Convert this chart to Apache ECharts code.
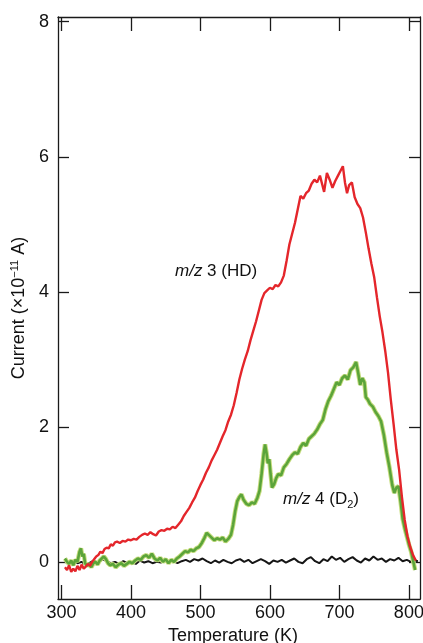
<!DOCTYPE html>
<html>
<head>
<meta charset="utf-8">
<script src="https://cdn.jsdelivr.net/npm/echarts@6/dist/echarts.min.js"></script>
<style>
  html, body { margin: 0; padding: 0; background: #fff; }
  #main { width: 423px; height: 643px; }
</style>
</head>
<body>
<div id="main"></div>
<script>
// tick labels
var tempTicks = [300, 400, 500, 600, 700, 800];
var currentTicks = [0, 2, 4, 6, 8];

// m/z 3 (HD), red
var hdTemp = [305, 308, 311, 314, 317, 320, 323, 326, 329, 332, 335, 338, 341, 344, 347, 350, 353, 356, 359, 362,
  365, 368, 371, 374, 377, 380, 384, 388, 392, 396, 400, 404, 408, 412, 416, 420, 424, 428, 432, 436,
  440, 444, 448, 452, 456, 460, 464, 468, 472, 476, 480, 484, 488, 492, 496, 500, 504, 508, 512, 516,
  520, 524, 528, 532, 536, 540, 544, 548, 552, 556, 560, 564, 568, 572, 576, 580, 584, 588, 592, 596,
  600, 604, 608, 612, 616, 620, 624, 628, 632, 636, 640, 644, 648, 652, 656, 660, 664, 668, 672, 676,
  678, 682, 686, 690, 694, 698, 702, 705, 708, 711, 714, 718, 722, 726, 730, 734, 738, 742, 746, 750,
  754, 758, 762, 766, 770, 774, 778, 782, 786, 790, 794, 798, 802, 806, 810];
var hdCurrent = [-0.08, -0.12, -0.05, -0.15, -0.10, -0.14, -0.06, -0.12, -0.04, -0.10, -0.07, -0.03, -0.06, 0.00, 0.04, 0.08, 0.10, 0.15, 0.13, 0.19,
  0.21, 0.20, 0.26, 0.24, 0.29, 0.30, 0.28, 0.31, 0.30, 0.33, 0.32, 0.34, 0.33, 0.37, 0.40, 0.42, 0.40, 0.44, 0.41, 0.39,
  0.45, 0.47, 0.46, 0.49, 0.48, 0.52, 0.50, 0.55, 0.60, 0.68, 0.74, 0.80, 0.88, 0.95, 1.05, 1.14, 1.22, 1.32, 1.40, 1.50,
  1.58, 1.66, 1.76, 1.86, 1.95, 2.08, 2.18, 2.32, 2.50, 2.70, 2.86, 3.00, 3.12, 3.28, 3.42, 3.56, 3.72, 3.88, 3.98, 4.02,
  4.06, 4.04, 4.10, 4.08, 4.14, 4.24, 4.46, 4.70, 4.86, 5.02, 5.22, 5.42, 5.38, 5.46, 5.50, 5.60, 5.66, 5.62, 5.72, 5.56,
  5.48, 5.76, 5.66, 5.54, 5.64, 5.72, 5.80, 5.86, 5.62, 5.46, 5.58, 5.62, 5.40, 5.30, 5.24, 5.10, 4.88, 4.64, 4.42, 4.22,
  3.92, 3.64, 3.40, 3.12, 2.80, 2.40, 2.04, 1.66, 1.36, 0.96, 0.62, 0.38, 0.22, 0.10, 0.02];

// m/z 4 (D2), green
var d2Temp = [305, 308, 311, 314, 317, 320, 323, 326, 328, 330, 332, 334, 337, 340, 343, 346, 349, 352, 355, 358,
  361, 364, 367, 370, 374, 378, 382, 386, 390, 394, 398, 402, 406, 410, 414, 418, 422, 426, 430, 434,
  438, 442, 446, 450, 454, 458, 462, 466, 470, 474, 478, 482, 486, 490, 494, 498, 502, 506, 509, 512,
  516, 520, 524, 528, 532, 536, 540, 544, 547, 550, 553, 556, 559, 562, 566, 570, 574, 578, 582, 585,
  588, 591, 593, 595, 597, 599, 601, 603, 606, 609, 612, 616, 620, 624, 628, 632, 636, 640, 644, 648,
  652, 656, 660, 664, 668, 672, 676, 680, 684, 688, 692, 696, 700, 704, 708, 712, 716, 720, 724, 727,
  730, 733, 736, 738, 741, 744, 748, 752, 756, 760, 764, 768, 772, 776, 779, 782, 785, 788, 791, 794,
  797, 800, 803, 806, 809];
var d2Current = [0.05, 0.00, -0.03, 0.02, -0.05, 0.03, 0.00, 0.15, 0.20, 0.08, 0.12, -0.02, -0.06, -0.03, -0.08, -0.02, 0.00, -0.04, 0.02, 0.05,
  0.08, 0.04, -0.02, -0.05, -0.03, -0.08, -0.04, -0.02, -0.06, -0.03, 0.00, -0.02, 0.02, 0.05, 0.03, 0.08, 0.10, 0.06, 0.12, 0.05,
  0.02, 0.06, 0.00, 0.04, -0.02, 0.03, 0.00, 0.05, 0.08, 0.12, 0.16, 0.14, 0.18, 0.16, 0.20, 0.22, 0.28, 0.36, 0.43, 0.40,
  0.36, 0.32, 0.35, 0.33, 0.36, 0.30, 0.34, 0.40, 0.55, 0.75, 0.90, 0.96, 1.00, 0.92, 0.86, 0.84, 0.88, 0.86, 0.95, 1.05,
  1.30, 1.60, 1.74, 1.62, 1.46, 1.52, 1.30, 1.10, 1.15, 1.24, 1.30, 1.28, 1.40, 1.45, 1.52, 1.58, 1.62, 1.60, 1.70, 1.76,
  1.72, 1.82, 1.86, 1.90, 1.96, 2.04, 2.10, 2.26, 2.38, 2.46, 2.56, 2.66, 2.62, 2.72, 2.76, 2.70, 2.84, 2.88, 2.96, 2.80,
  2.62, 2.72, 2.66, 2.44, 2.40, 2.34, 2.30, 2.22, 2.16, 2.08, 1.88, 1.62, 1.40, 1.14, 1.02, 1.10, 1.12, 0.90, 0.64, 0.50,
  0.38, 0.26, 0.16, 0.02, -0.12];

// baseline, black
var blankTemp = [305, 311, 317, 323, 329, 335, 341, 347, 353, 359, 365, 371, 377, 383, 389, 395, 401, 407, 413, 419,
  425, 431, 437, 443, 449, 455, 461, 467, 473, 479, 485, 491, 497, 503, 509, 515, 521, 527, 533, 539,
  545, 551, 557, 563, 569, 575, 581, 587, 593, 599, 605, 611, 617, 623, 629, 635, 641, 647, 653, 659,
  665, 671, 677, 683, 689, 695, 701, 707, 713, 719, 725, 731, 737, 743, 749, 755, 761, 767, 773, 779,
  785, 791, 797, 803, 809, 813];
var blankCurrent = [0.02, -0.03, 0.01, -0.02, 0.00, -0.04, -0.01, 0.02, -0.02, 0.04, 0.01, -0.02, 0.00, -0.03, 0.01, -0.02, 0.00, -0.03, 0.02, -0.01,
  0.01, -0.02, 0.00, -0.01, 0.02, -0.01, 0.01, -0.02, 0.01, 0.03, 0.00, 0.04, 0.02, 0.05, 0.01, -0.02, 0.02, -0.01, 0.03, 0.00,
  -0.02, 0.02, 0.04, 0.00, 0.03, -0.02, 0.01, 0.04, 0.01, -0.03, 0.02, 0.00, 0.03, -0.01, 0.02, 0.05, 0.00, -0.02, 0.04, 0.07,
  0.01, -0.02, 0.04, 0.01, 0.08, 0.03, 0.06, 0.00, 0.04, 0.07, 0.02, -0.01, 0.05, 0.02, 0.08, 0.03, 0.05, 0.00, 0.04, 0.02,
  0.06, 0.01, 0.03, 0.00, 0.02, 0.01];

function zip(xs, ys) {
  return xs.map(function (x, i) { return [x, ys[i]]; });
}

var font = 'Liberation Sans, Arial, Helvetica, sans-serif';
var axisColor = '#1a1a1a';

var chart = echarts.init(document.getElementById('main'));
chart.setOption({
  animation: false,
  backgroundColor: '#fff',
  textStyle: { fontFamily: font },
  grid: { left: 58, right: 3, top: 17, bottom: 44, outerBoundsMode: 'none' },
  xAxis: [{
    type: 'value', min: 295, max: 816, position: 'bottom',
    name: 'Temperature (K)', nameLocation: 'middle', nameGap: 27,
    nameTextStyle: { fontSize: 18, color: '#111', fontFamily: font, padding: [0, 12, 0, 0] },
    axisLine: { onZero: false, lineStyle: { color: axisColor, width: 1.3 } },
    axisTick: { inside: true, length: 14, customValues: tempTicks, lineStyle: { color: axisColor, width: 1.3 } },
    axisLabel: { customValues: tempTicks, margin: 5, fontSize: 18, color: '#111', fontFamily: font },
    splitLine: { show: false }
  }, {
    type: 'value', min: 295, max: 816, position: 'top',
    axisLine: { onZero: false, lineStyle: { color: axisColor, width: 1.3 } },
    axisTick: { inside: true, length: 14, customValues: tempTicks, lineStyle: { color: axisColor, width: 1.3 } },
    axisLabel: { show: false },
    splitLine: { show: false }
  }],
  yAxis: [{
    type: 'value', min: -0.55, max: 8.07, position: 'left',
    name: '{a|Current (×10}{s|−11}{a| A)}', nameLocation: 'middle', nameGap: 28, nameRotate: 90,
    nameTextStyle: {
      color: '#111',
      rich: {
        a: { fontSize: 18, fontFamily: font, color: '#111', lineHeight: 20 },
        s: { fontSize: 11, fontFamily: font, color: '#111', verticalAlign: 'top', lineHeight: 20 }
      }
    },
    axisLine: { onZero: false, lineStyle: { color: axisColor, width: 1.3 } },
    axisTick: { inside: true, length: 11, customValues: currentTicks, lineStyle: { color: axisColor, width: 1.3 } },
    axisLabel: { customValues: currentTicks, margin: 9, fontSize: 18, color: '#111', fontFamily: font },
    splitLine: { show: false }
  }, {
    type: 'value', min: -0.55, max: 8.07, position: 'right',
    axisLine: { onZero: false, lineStyle: { color: axisColor, width: 1.3 } },
    axisTick: { inside: true, length: 11, customValues: currentTicks, lineStyle: { color: axisColor, width: 1.3 } },
    axisLabel: { show: false },
    splitLine: { show: false }
  }],
  series: [{
    name: 'blank', type: 'line', showSymbol: false, silent: true,
    data: zip(blankTemp, blankCurrent),
    lineStyle: { color: '#151515', width: 2 }
  }, {
    name: 'D2 halo', type: 'line', showSymbol: false, silent: true,
    data: zip(d2Temp, d2Current),
    lineStyle: { color: '#c5dc7e', width: 4.5 }
  }, {
    name: 'm/z 4 (D2)', type: 'line', showSymbol: false, silent: true,
    data: zip(d2Temp, d2Current),
    lineStyle: { color: '#5ba43a', width: 2.6 }
  }, {
    name: 'm/z 3 (HD)', type: 'line', showSymbol: false, silent: true,
    data: zip(hdTemp, hdCurrent),
    lineStyle: { color: '#e4262b', width: 2.4 }
  }],
  graphic: [{
    type: 'text', left: 175, top: 263,
    style: {
      text: '{i|m/z}{n| 3 (HD)}',
      rich: {
        i: { fontSize: 17, fontStyle: 'italic', fontFamily: font, fill: '#111' },
        n: { fontSize: 17, fontFamily: font, fill: '#111' }
      }
    }
  }, {
    type: 'text', left: 283, top: 491,
    style: {
      text: '{i|m/z}{n| 4 (D}{b|2}{n|)}',
      rich: {
        i: { fontSize: 17, fontStyle: 'italic', fontFamily: font, fill: '#111', lineHeight: 22 },
        n: { fontSize: 17, fontFamily: font, fill: '#111', lineHeight: 22 },
        b: { fontSize: 11, fontFamily: font, fill: '#111', verticalAlign: 'bottom', lineHeight: 22 }
      }
    }
  }]
});
</script>
</body>
</html>
